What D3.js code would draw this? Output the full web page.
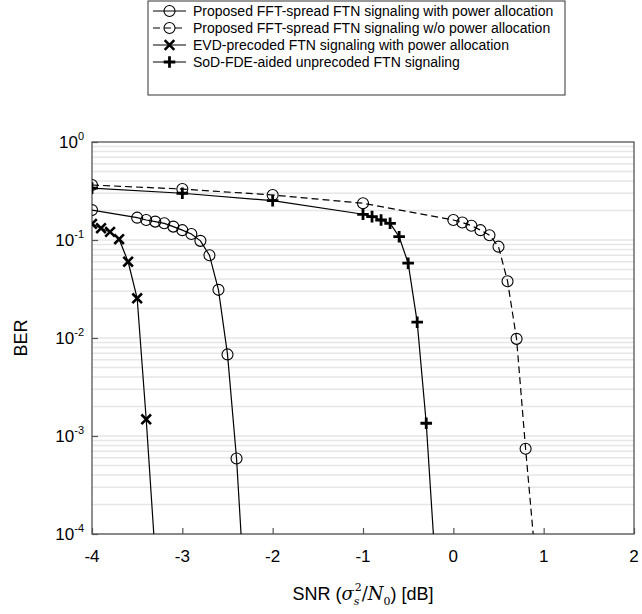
<!DOCTYPE html>
<html>
<head>
<meta charset="utf-8">
<script src="https://cdn.jsdelivr.net/npm/d3@7"></script>
<style>
  body { margin: 0; background: #fff; }
  svg { display: block; font-family: "Liberation Sans", Arial, sans-serif; }
</style>
</head>
<body>
<svg width="642" height="614"></svg>
<script>
// series
const snrPA = [-4, -3.5, -3.4, -3.3, -3.2, -3.1, -3.0, -2.9, -2.8, -2.7, -2.6, -2.5, -2.4, -2.3]
const berPA = [0.202, 0.169, 0.160, 0.154, 0.148, 0.137, 0.126, 0.115, 0.098, 0.070, 0.031, 0.0068, 0.00059, 0.000017]

const snrNoPA = [-4, -3, -2, -1, 0, 0.1, 0.2, 0.3, 0.4, 0.5, 0.6, 0.7, 0.8, 0.9]
const berNoPA = [0.364, 0.331, 0.288, 0.237, 0.160, 0.151, 0.140, 0.126, 0.112, 0.0855, 0.038, 0.0098, 0.00074, 0.000068]

const snrEVD = [-4, -3.9, -3.8, -3.7, -3.6, -3.5, -3.4, -3.3]
const berEVD = [0.146, 0.132, 0.121, 0.102, 0.060, 0.0254, 0.00148, 0.00006]

const snrSoD = [-4, -3, -2, -1, -0.9, -0.8, -0.7, -0.6, -0.5, -0.4, -0.3, -0.2]
const berSoD = [0.338, 0.30, 0.252, 0.183, 0.173, 0.160, 0.148, 0.108, 0.058, 0.0145, 0.00135, 0.00005]

const xTicks = [-4, -3, -2, -1, 0, 1, 2]
const yExps = [0, -1, -2, -3, -4]

const legendLabels = [
  "Proposed FFT-spread FTN signaling with power allocation",
  "Proposed FFT-spread FTN signaling w/o power allocation",
  "EVD-precoded FTN signaling with power allocation",
  "SoD-FDE-aided unprecoded FTN signaling"
]

const series = [
  { x: snrPA, y: berPA, marker: "circle", dash: null },
  { x: snrNoPA, y: berNoPA, marker: "circle", dash: "7,4" },
  { x: snrEVD, y: berEVD, marker: "cross", dash: null },
  { x: snrSoD, y: berSoD, marker: "plus", dash: null }
]

let svg = d3.select("svg")
let pLeft = 92, pRight = 634, pTop = 142, pBottom = 534

let x = d3.scaleLinear().domain([-4, 2]).range([pLeft, pRight])
let y = d3.scaleLog().domain([1e-4, 1]).range([pBottom, pTop])

svg.append("defs").append("clipPath").attr("id", "plotClip")
   .append("rect")
   .attr("x", pLeft).attr("y", pTop)
   .attr("width", pRight - pLeft).attr("height", pBottom - pTop)

// light horizontal grid at every minor log value
let gridVals = []
yExps.forEach(e => {
  if (e === 0) return
  for (let k = 1; k <= 9; k++) gridVals.push(k * Math.pow(10, e))
})
svg.append("g")
   .selectAll("line")
   .data(gridVals)
   .enter()
   .append("line")
   .attr("x1", pLeft).attr("x2", pRight)
   .attr("y1", d => y(d)).attr("y2", d => y(d))
   .attr("stroke", "#e6e6e6")
   .attr("stroke-width", 1.5)

// axes, ticks drawn inwards
let xAxis = d3.axisBottom(x).tickValues(xTicks).tickSize(-6).tickFormat("")
let gx = svg.append("g").attr("transform", `translate(0,${pBottom})`).call(xAxis)
let yAxis = d3.axisLeft(y).tickValues(yExps.map(e => Math.pow(10, e))).tickSize(-6).tickFormat("")
let gy = svg.append("g").attr("transform", `translate(${pLeft},0)`).call(yAxis)
;[gx, gy].forEach(g => {
  g.select(".domain").remove()
  g.selectAll(".tick line").attr("stroke", "#555").attr("stroke-width", 1.2)
})

svg.append("rect")
   .attr("x", pLeft).attr("y", pTop)
   .attr("width", pRight - pLeft).attr("height", pBottom - pTop)
   .attr("fill", "none")
   .attr("stroke", "#555")
   .attr("stroke-width", 1.3)

// tick labels
svg.append("g")
   .selectAll("text")
   .data(xTicks)
   .enter()
   .append("text")
   .attr("x", d => x(d))
   .attr("y", pBottom + 28)
   .attr("text-anchor", "middle")
   .style("font-size", "17px")
   .text(d => d)

let yLab = svg.append("g")
              .selectAll("text")
              .data(yExps)
              .enter()
              .append("text")
              .attr("x", pLeft - 8)
              .attr("y", d => y(Math.pow(10, d)) + 6)
              .attr("text-anchor", "end")
              .style("font-size", "17px")
yLab.append("tspan").text("10")
yLab.append("tspan").attr("dy", -8).style("font-size", "11px").text(d => d)

// axis titles
svg.append("text")
   .attr("transform", `translate(27,${(pTop + pBottom) / 2}) rotate(-90)`)
   .attr("text-anchor", "middle")
   .style("font-size", "18px")
   .text("BER")

// x title: built from pieces so the sigma can carry a stacked sub/sup
let titleY = pBottom + 66
let serif = "DejaVu Serif"
let xt = svg.append("g")
let t1 = xt.append("text").attr("y", titleY).style("font-size", "18px").text("SNR (")
let t2 = xt.append("text").attr("y", titleY).style("font-size", "18px")
           .style("font-family", serif).style("font-style", "italic").text("σ")
let t3 = xt.append("text").attr("y", titleY - 9).style("font-size", "11px")
           .style("font-family", serif).text("2")
let t4 = xt.append("text").attr("y", titleY + 5).style("font-size", "11px")
           .style("font-family", serif).style("font-style", "italic").text("s")
let t5 = xt.append("text").attr("y", titleY).style("font-size", "18px")
           .style("font-family", serif)
t5.append("tspan").text("/")
t5.append("tspan").style("font-style", "italic").text("N")
let t6 = xt.append("text").attr("y", titleY + 5).style("font-size", "11px")
           .style("font-family", serif).text("0")
let t7 = xt.append("text").attr("y", titleY).style("font-size", "18px").text(") [dB]")

let w = n => n.node().getComputedTextLength()
let total = w(t1) + w(t2) + Math.max(w(t3), w(t4)) + 1 + w(t5) + w(t6) + w(t7)
let cx = (pLeft + pRight) / 2 - total / 2
t1.attr("x", cx); cx += w(t1)
t2.attr("x", cx); cx += w(t2)
t3.attr("x", cx + 1); t4.attr("x", cx); cx += Math.max(w(t3), w(t4)) + 1
t5.attr("x", cx); cx += w(t5)
t6.attr("x", cx); cx += w(t6)
t7.attr("x", cx)

function drawMarker(g, type, cx, cy) {
  if (type === "circle") {
    g.append("circle")
     .attr("cx", cx).attr("cy", cy).attr("r", 5.5)
     .attr("fill", "none").attr("stroke", "#000").attr("stroke-width", 1.1)
  } else if (type === "cross") {
    let s = 4.8
    g.append("path")
     .attr("d", `M${cx - s},${cy - s}L${cx + s},${cy + s}M${cx - s},${cy + s}L${cx + s},${cy - s}`)
     .attr("stroke", "#000").attr("stroke-width", 2.6)
  } else {
    let s = 5.8
    g.append("path")
     .attr("d", `M${cx - s},${cy}L${cx + s},${cy}M${cx},${cy - s}L${cx},${cy + s}`)
     .attr("stroke", "#000").attr("stroke-width", 2.8)
  }
}

let plot = svg.append("g").attr("clip-path", "url(#plotClip)")
let line = d3.line().x(d => x(d[0])).y(d => y(d[1]))

series.forEach(s => {
  let pts = s.x.map((v, i) => [v, s.y[i]])
  plot.append("path")
      .attr("d", line(pts))
      .attr("fill", "none")
      .attr("stroke", "#000")
      .attr("stroke-width", 1.2)
      .attr("stroke-dasharray", s.dash)
  pts.filter(p => p[1] >= 1e-4).forEach(p => drawMarker(plot, s.marker, x(p[0]), y(p[1])))
})

// legend
let lg = svg.append("g")
let lgX = 148, lgY = 1, rowH = 17
lg.append("rect")
  .attr("x", lgX).attr("y", lgY)
  .attr("width", 417).attr("height", 94)
  .attr("fill", "#fff")
  .attr("stroke", "#333")
  .attr("stroke-width", 1)

legendLabels.forEach((label, i) => {
  let ly = lgY + 10 + i * rowH
  lg.append("line")
    .attr("x1", lgX + 5).attr("x2", lgX + 38)
    .attr("y1", ly).attr("y2", ly)
    .attr("stroke", "#000").attr("stroke-width", 1.2)
    .attr("stroke-dasharray", series[i].dash)
  drawMarker(lg, series[i].marker, lgX + 21.5, ly)
  lg.append("text")
    .attr("x", lgX + 45)
    .attr("y", ly + 5)
    .style("font-size", "14px")
    .text(label)
})
</script>
</body>
</html>
